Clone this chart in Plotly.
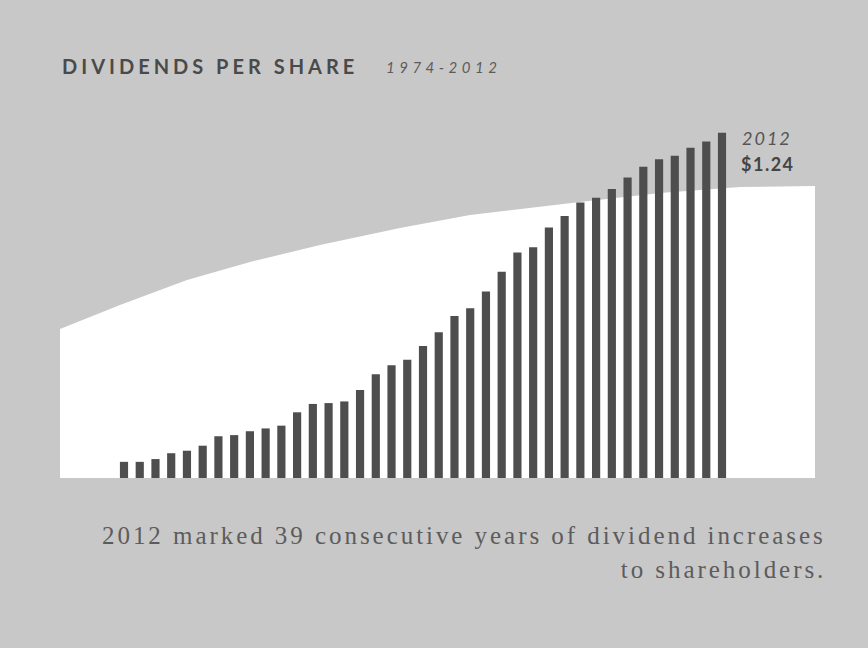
import json
import plotly.graph_objects as go

# ---------------- data ----------------
years = list(range(1974, 2013))
dividends = [0.058, 0.058, 0.068, 0.089, 0.098, 0.116, 0.150, 0.154, 0.168, 0.178,
             0.188, 0.236, 0.266, 0.269, 0.275, 0.316, 0.373, 0.405, 0.425, 0.474,
             0.523, 0.582, 0.610, 0.670, 0.741, 0.810, 0.829, 0.900, 0.941, 0.989,
             1.006, 1.038, 1.079, 1.118, 1.145, 1.157, 1.186, 1.208, 1.240]
title_main = "DIVIDENDS PER SHARE"
title_years = "1974-2012"
last_year_label = "2012"
last_value_label = "$1.24"
caption_line1 = "2012 marked 39 consecutive years of dividend increases"
caption_line2 = "to shareholders."

# ---------------- layout geometry ----------------
W, H = 868, 648
BG = "#c8c8c8"
first_px, last_px = 124.0, 722.0
px_per_year = (last_px - first_px) / (years[-1] - years[0])
x0 = years[0] - first_px / px_per_year
x1 = x0 + W / px_per_year
baseline_py = 478.0
px_per_dollar = 345.3 / 1.24
y0 = -(H - baseline_py) / px_per_dollar
y1 = y0 + H / px_per_dollar


def px(x):
    return x / W


def py(y):
    return 1 - y / H


# white backdrop outline (pixel positions)
edge = [(60, 329), (120, 305), (187, 280), (250, 262), (320, 245), (400, 228),
        (470, 215), (580, 202), (660, 193), (740, 187), (815, 186)]
path = f"M {px(60):.5f},{py(478):.5f} "
for (ex, ey) in edge:
    path += f"L {px(ex):.5f},{py(ey):.5f} "
path += f"L {px(815):.5f},{py(478):.5f} Z"

fig = go.Figure()
fig.add_trace(go.Bar(
    x=years, y=dividends, width=0.52,
    marker=dict(color="#4e4e4e", line=dict(width=0)),
    hoverinfo="skip",
))

annotations = []
spacings = []


def add_text(text, x, y, size, family, color, spacing, weight=400, style="normal",
             xanchor="left", align="left"):
    annotations.append(dict(
        text=text, x=px(x), y=py(y), xref="paper", yref="paper",
        xanchor=xanchor, yanchor="middle", align=align, showarrow=False,
        borderpad=0, borderwidth=0,
        font=dict(family=family, size=size, color=color, weight=weight, style=style),
    ))
    spacings.append(spacing)


add_text(title_main, 62, 66, 20, "Lato", "#4a4a4a", 4.0, weight=700)
add_text(title_years, 386, 67, 15, "Lato", "#5c5c5c", 4.5, style="italic")
add_text(last_year_label, 742, 138, 18, "Lato", "#555555", 2.0, style="italic")
add_text(last_value_label, 741, 164, 18, "Lato", "#444444", 1.5, weight=700)
add_text(caption_line1, 102, 535, 25, "Liberation Serif", "#5c5c5c", 2.95)
add_text(caption_line2, 826, 569, 25, "Liberation Serif", "#5c5c5c", 2.95,
         xanchor="right", align="right")

fig.update_layout(
    width=W, height=H,
    margin=dict(l=0, r=0, t=0, b=0),
    paper_bgcolor=BG, plot_bgcolor="rgba(0,0,0,0)",
    showlegend=False,
    xaxis=dict(range=[x0, x1], visible=False, fixedrange=True),
    yaxis=dict(range=[y0, y1], visible=False, fixedrange=True),
    shapes=[dict(type="path", path=path, xref="paper", yref="paper",
                 fillcolor="#ffffff", line=dict(width=0), layer="below")],
    annotations=annotations,
)

post = """
document.body.style.margin = '0';
document.body.style.overflow = 'hidden';
var sp = %s;
document.querySelectorAll('g.annotation').forEach(function(g){
  var i = +g.getAttribute('data-index');
  var t = g.querySelector('text.annotation-text');
  if (t && sp[i]) { t.style.letterSpacing = sp[i] + 'px'; }
});
""" % json.dumps(spacings)

fig.write_html("out.html", config={"displayModeBar": False, "staticPlot": True},
               post_script=post)
